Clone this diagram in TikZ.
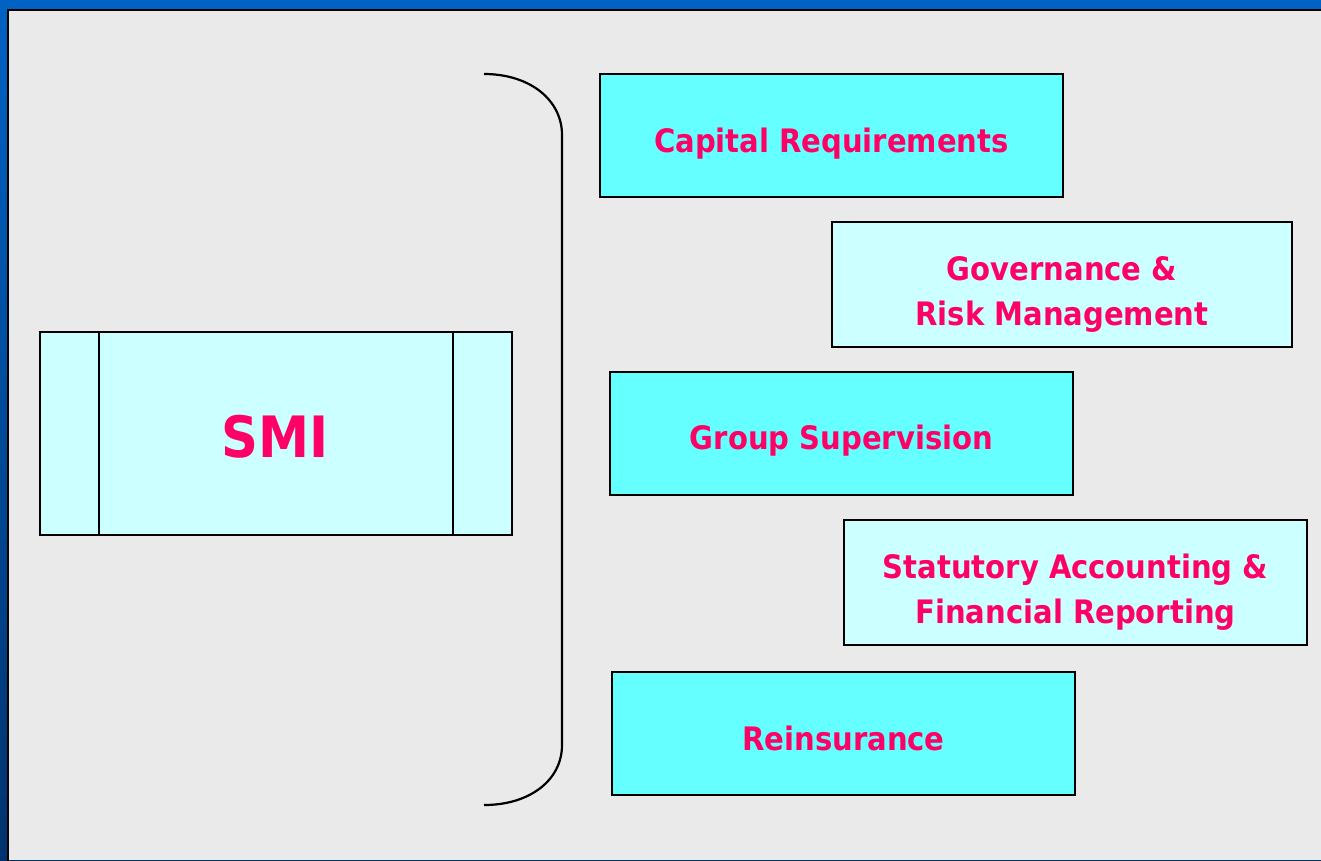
\documentclass[tikz,border=0pt]{standalone}
\usepackage{fontspec}
\setmainfont{DejaVu Sans Condensed}
\usetikzlibrary{calc}
\definecolor{bgblue}{HTML}{0062C4}
\definecolor{bgnavy}{HTML}{00336E}
\definecolor{panel}{HTML}{EAEAEA}
\definecolor{cyanbox}{HTML}{66FFFF}
\definecolor{lightbox}{HTML}{CCFFFF}
\definecolor{txt}{HTML}{FF0066}
\tikzset{
  itembox/.style={draw=black, line width=2.2pt, inner sep=0pt, outer sep=0pt},
  darkbox/.style={itembox, fill=cyanbox},
  palebox/.style={itembox, fill=lightbox},
  itemtext/.style={inner sep=0pt, align=center, text=txt, font=\fontsize{32.3}{45}\selectfont\bfseries},
  bracketline/.style={draw=black, line width=2.2pt},
}
\begin{document}
\begin{tikzpicture}[x=1pt,y=-1pt]
\useasboundingbox (0,0) rectangle (1321,860);
\shade[top color=bgblue, bottom color=bgnavy] (0,0) rectangle (1321,860);
\fill[panel] (8,10) rectangle (1321,860);
\draw[line width=2pt] (8,861) -- (8,10) -- (1322,10);
% brace
\coordinate (bt) at (484,74);
\coordinate (bb) at (484,805);
\draw[bracketline] (bt) .. controls (530,74) and (562,100) .. (562,135) -- (562,745) .. controls (562,780) and (530,805) .. (bb);
% SMI
\node[palebox, minimum width=472, minimum height=203] (smi) at (276,433.5) {};
\draw[line width=2.2pt] ($(smi.north west)+(59,0)$) -- ($(smi.south west)+(59,0)$);
\draw[line width=2.2pt] ($(smi.north east)+(-59,0)$) -- ($(smi.south east)+(-59,0)$);
\node[itemtext, anchor=base, font=\fontsize{57}{60}\selectfont\bfseries] (smit) at (275,457) {SMI};
% items
\node[darkbox, minimum width=463, minimum height=123] (cap) at (831.5,135.5) {};
\node[itemtext, anchor=base] (capt) at (831.5,152) {Capital Requirements};
\node[palebox, minimum width=460, minimum height=125] (gov) at (1062,284.5) {};
\node[itemtext] (govt) at (1062,294.5) {Governance \&\\Risk Management};
\node[darkbox, minimum width=463, minimum height=123] (grp) at (841.5,433.5) {};
\node[itemtext, anchor=base] (grpt) at (841.5,449.5) {Group Supervision};
\node[palebox, minimum width=463, minimum height=125] (stat) at (1075.5,582.5) {};
\node[itemtext] (statt) at (1075.5,592.5) {Statutory Accounting \&\\Financial Reporting};
\node[darkbox, minimum width=463, minimum height=123] (rein) at (843.5,733.5) {};
\node[itemtext, anchor=base] (reint) at (843.5,750) {Reinsurance};
\end{tikzpicture}
\end{document}
